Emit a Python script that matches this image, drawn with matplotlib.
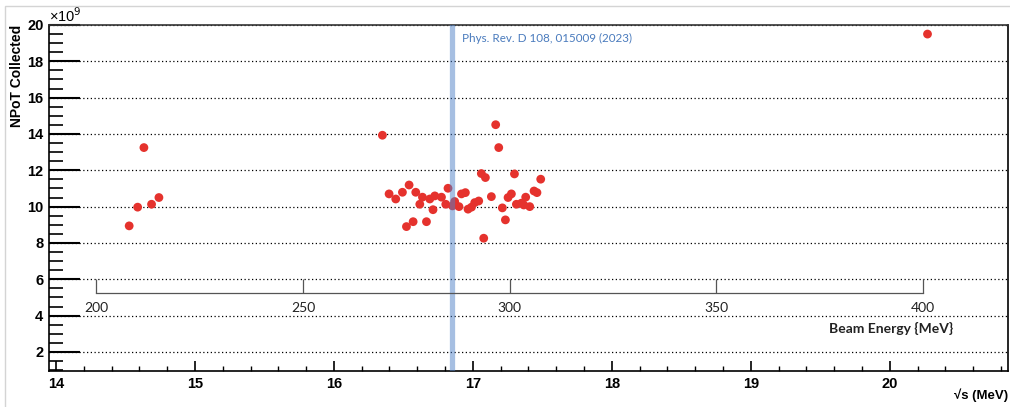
import numpy as np
import matplotlib.pyplot as plt
from matplotlib.ticker import MultipleLocator
from matplotlib.patches import Rectangle

# Data (sqrt(s) in MeV, NPoT in units of 1e9)
sqrt_s = [14.527, 14.588, 14.633, 14.688, 14.741,
          16.349, 16.397, 16.445, 16.493, 16.541, 16.589, 16.637, 16.618, 16.522, 16.570,
          16.666, 16.713, 16.690, 16.726, 16.774, 16.805, 16.821, 16.853, 16.869, 16.900,
          16.918, 16.946, 16.965, 16.990, 17.013, 17.042, 17.061, 17.090, 17.078, 17.164,
          17.186, 17.133, 17.212, 17.234, 17.253, 17.277, 17.299, 17.313, 17.349, 17.380,
          17.366, 17.409, 17.440, 17.461, 17.488,
          20.271]
npot = [8.94, 9.97, 13.25, 10.13, 10.50,
        13.93, 10.70, 10.42, 10.79, 11.19, 10.79, 10.52, 10.13, 8.90, 9.17,
        9.17, 9.83, 10.42, 10.59, 10.52, 10.13, 11.01, 10.04, 10.28, 10.00,
        10.70, 10.77, 9.86, 9.97, 10.22, 10.31, 11.82, 11.60, 8.26, 14.51,
        13.25, 10.55, 9.93, 9.27, 10.50, 10.70, 11.80, 10.13, 10.19, 10.52,
        10.09, 10.00, 10.86, 10.77, 11.51,
        19.50]

# Previous result marker
ref_sqrt_s = 16.85
ref_label = "Phys. Rev. D 108, 015009 (2023)"

# Beam energy scale shown inside the plot
beam_ticks = [200, 250, 300, 350, 400]
beam_span = (14.29, 20.24)  # sqrt(s) positions of 200 and 400 MeV on the drawing

fig = plt.figure(figsize=(10.1, 4.07), dpi=100)
ax = fig.add_axes([0.0485, 0.0885, 0.9495, 0.8501])

# light frame around the whole picture
fig.patches.append(Rectangle((0.005, -0.01), 1.2, 1.005 - 0.01, transform=fig.transFigure,
                             fill=False, edgecolor="#d4d4d4", linewidth=1.0))

ax.scatter(sqrt_s, npot, s=40, color="#e5322d", edgecolors="none", zorder=3)
ax.axvline(ref_sqrt_s, color="#4f81c7", alpha=0.5, linewidth=3.8, zorder=4)
ax.annotate(ref_label, xy=(ref_sqrt_s, 19.27), xytext=(7, 0), textcoords="offset points",
            va="center", ha="left", fontsize=8.4, color="#4a7bbd", family="Lato")

ax.set_xlim(13.95, 20.85)
ax.set_ylim(0.95, 20)

ax.xaxis.set_major_locator(MultipleLocator(1))
ax.xaxis.set_minor_locator(MultipleLocator(0.2))
ax.yaxis.set_major_locator(MultipleLocator(2))
ax.yaxis.set_minor_locator(MultipleLocator(0.5))
ax.tick_params(axis="x", which="major", direction="in", length=7, width=1.2, pad=4)
ax.tick_params(axis="x", which="minor", direction="in", length=3.6, width=1.0)
ax.tick_params(axis="y", which="major", direction="in", length=22, width=1.5, pad=4)
ax.tick_params(axis="y", which="minor", direction="in", length=10, width=1.2)
for lab in ax.get_xticklabels() + ax.get_yticklabels():
    lab.set_fontweight("bold")
    lab.set_fontsize(10.5)
    lab.set_family("Liberation Sans")

ax.yaxis.grid(True, which="major", color="black", linestyle=(0, (1, 2)), linewidth=0.9)
ax.set_axisbelow(True)
for sp in ax.spines.values():
    sp.set_linewidth(1.2)
ax.spines["top"].set_color("#333333")

# axis titles, ROOT style
fig.text(0.0168, 0.9386, "NPoT Collected", rotation=90, ha="center", va="top",
         fontsize=10, fontweight="bold", family="Liberation Sans")
fig.text(0.998, 0.0295, "√s (MeV)", ha="right", va="center", fontsize=9.5,
         fontweight="bold", family=["Liberation Sans", "DejaVu Sans"])
ax.text(0.0, 1.0, "×10$^{9}$", transform=ax.transAxes, ha="left", va="bottom",
        fontsize=10.5, family="Liberation Sans")

# beam energy axis drawn as a small inset
bax = ax.inset_axes([beam_span[0], 5.23, beam_span[1] - beam_span[0], 0.77], transform=ax.transData)
bax.patch.set_visible(False)
for side in ["top", "left", "right"]:
    bax.spines[side].set_visible(False)
bax.spines["bottom"].set_color("#555555")
bax.spines["bottom"].set_linewidth(0.9)
bax.set_xlim(beam_ticks[0], beam_ticks[-1])
bax.set_xticks(beam_ticks)
bax.set_yticks([])
bax.tick_params(axis="x", direction="in", length=10, width=0.9, color="#555555", pad=6,
                labelsize=10, labelcolor="#222222")
for lab in bax.get_xticklabels():
    lab.set_family("Lato")
ax.text(20.01, 3.27, "Beam Energy {MeV}", ha="center", va="center", fontsize=10,
        fontweight="bold", family="Lato", color="#222222")

fig.savefig("out.png", dpi=100)
